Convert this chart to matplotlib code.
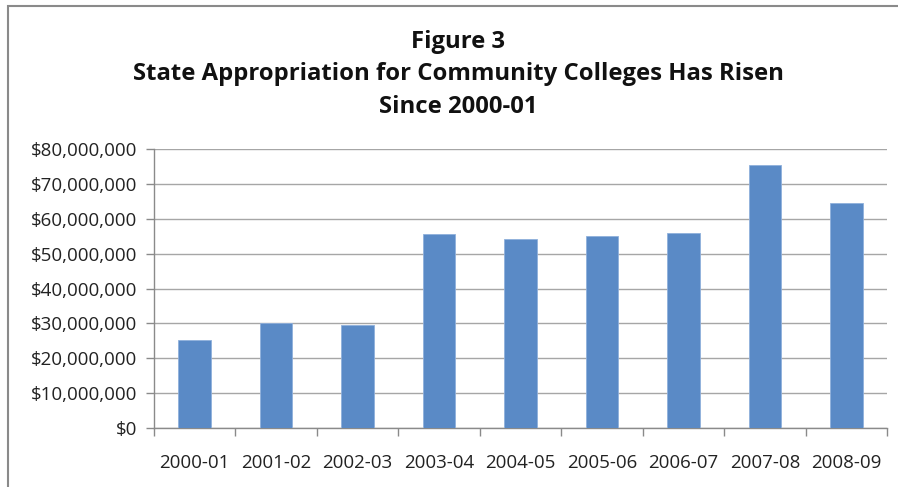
import matplotlib
matplotlib.use("Agg")
import matplotlib.pyplot as plt
from matplotlib.patches import Rectangle
from matplotlib.ticker import FuncFormatter, MultipleLocator

# Appropriation by fiscal year (dollars)
years = ["2000-01", "2001-02", "2002-03", "2003-04", "2004-05",
         "2005-06", "2006-07", "2007-08", "2008-09"]
appropriation = [25_200_000, 30_000_000, 29_500_000, 55_600_000, 54_200_000,
                 55_100_000, 55_900_000, 75_400_000, 64_400_000]

title_lines = ["Figure 3",
               "State Appropriation for Community Colleges Has Risen",
               "Since 2000-01"]

plt.rcParams["font.family"] = ["Open Sans", "DejaVu Sans"]

W, H = 898, 487
fig = plt.figure(figsize=(W / 100, H / 100), dpi=100)

# chart frame (only left and top edges fall inside the image)
fig.patches.append(Rectangle((8 / W, -0.1), 1.2, 1 - 6 / H + 0.1,
                             transform=fig.transFigure, fill=False,
                             edgecolor="#8a8a8a", linewidth=1.5))

ax = fig.add_axes([154 / W, 1 - 428 / H, (887 - 154) / W, (428 - 149) / H])

x = range(len(years))
ax.bar(x, appropriation, width=0.4, color="#5a8ac6",
       edgecolor="#8fb0dc", linewidth=0.6, zorder=3)

ax.set_xlim(-0.5, len(years) - 0.5)
ax.set_ylim(0, 80_000_000)
ax.yaxis.set_major_locator(MultipleLocator(10_000_000))
ax.yaxis.set_major_formatter(FuncFormatter(lambda v, p: f"${v:,.0f}"))
ax.grid(axis="y", color="#a6a6a6", linewidth=1.0, zorder=0)

ax.set_xticks([i + 0.5 for i in range(-1, len(years))], minor=False)
ax.set_xticklabels([])
ax.set_xticks(list(x), minor=True)
ax.set_xticklabels(years, minor=True)
ax.tick_params(axis="x", which="major", length=6, color="#8a8a8a", width=1)
ax.tick_params(axis="x", which="minor", length=0, pad=19,
               labelsize=13.5, labelcolor="#222222")
ax.tick_params(axis="y", length=6, color="#8a8a8a", width=1, pad=6,
               labelsize=13.5, labelcolor="#222222")

for side in ("top", "right"):
    ax.spines[side].set_visible(False)
for side in ("left", "bottom"):
    ax.spines[side].set_color("#8a8a8a")
    ax.spines[side].set_linewidth(1.0)

for i, line in enumerate(title_lines):
    fig.text(458 / W, 1 - (42 + 32.5 * i) / H, line, ha="center", va="center",
             fontsize=17.2, fontweight="bold", color="#111111")

fig.savefig("out.png", dpi=100)
